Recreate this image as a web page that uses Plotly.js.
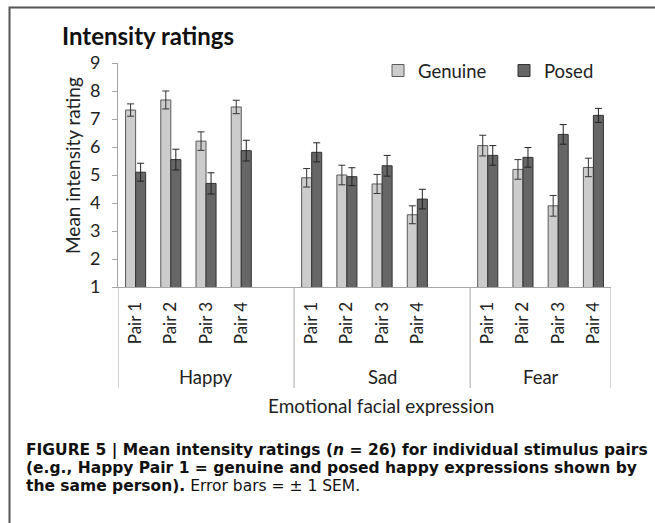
<!DOCTYPE html>
<html>
<head>
<meta charset="utf-8">
<script src="https://cdn.plot.ly/plotly-3.0.1.min.js"></script>
<style>
  html, body { margin: 0; padding: 0; background: #fff; }
  #chart { width: 655px; height: 523px; }
</style>
</head>
<body>
<div id="chart"></div>
<script>
// ---- data ----
const groups = ["Happy", "Sad", "Fear"];
const pairs = ["Pair 1", "Pair 2", "Pair 3", "Pair 4"];
const genuine    = [7.32, 7.68, 6.21, 7.43, 4.90, 5.00, 4.68, 3.58, 6.05, 5.20, 3.90, 5.27];
const genuineSem = [0.22, 0.32, 0.33, 0.24, 0.33, 0.35, 0.34, 0.32, 0.37, 0.35, 0.37, 0.33];
const posed      = [5.10, 5.55, 4.70, 5.87, 5.81, 4.94, 5.33, 4.14, 5.70, 5.63, 6.45, 7.13];
const posedSem   = [0.32, 0.37, 0.38, 0.37, 0.34, 0.32, 0.37, 0.35, 0.35, 0.35, 0.35, 0.25];
const seriesNames = ["Genuine", "Posed"];
const chartTitle = "Intensity ratings";
const yTitle = "Mean intensity rating";
const xTitle = "Emotional facial expression";
const yRange = [1, 9];
const captionLines = [
  "<b>FIGURE 5 | Mean intensity ratings (<i>n</i> = 26) for individual stimulus pairs</b>",
  "<b>(e.g., Happy Pair 1 = genuine and posed happy expressions shown by</b>",
  "<b>the same person).</b> Error bars = ± 1 SEM."
];

// ---- layout geometry ----
const W = 655, H = 523;
const M = { l: 118, r: 44, t: 63, b: 236 };
const PW = W - M.l - M.r, PH = H - M.t - M.b;
const px = x => (x - M.l) / PW;          // pixel x -> paper x
const py = y => (H - M.b - y) / PH;      // pixel y -> paper y

const FONT = "Lato, Carlito, Calibri, sans-serif";
const CAPFONT = "'DejaVu Sans', 'Liberation Sans', Arial, sans-serif";
const slot = pairs.length + 1;           // pairs plus one empty slot between groups
const xs = [], ticktext = [];
groups.forEach((g, gi) => pairs.forEach((p, pi) => { xs.push(gi * slot + pi); ticktext.push(p); }));
const xMax = groups.length * slot - 1.5;

const traces = [
  {
    type: "bar", name: seriesNames[0], x: xs, y: genuine,
    marker: { color: "#cccccc", line: { color: "#5a5a5a", width: 1 } },
    error_y: { type: "data", array: genuineSem, visible: true, color: "#333", thickness: 1, width: 3.5 }
  },
  {
    type: "bar", name: seriesNames[1], x: xs, y: posed,
    marker: { color: "#666666", line: { color: "#333333", width: 1 } },
    error_y: { type: "data", array: posedSem, visible: true, color: "#222", thickness: 1, width: 3.5 }
  }
];

const shapes = [];
// group separators of the two-level category axis
const seps = [-0.5];
groups.forEach((g, gi) => seps.push(gi === groups.length - 1 ? xMax : gi * slot + slot - 0.5));
seps.forEach(s => shapes.push({
  type: "line", xref: "x", yref: "paper", x0: s, x1: s, y0: 0, y1: py(388),
  line: { color: "#a6a6a6", width: 1 }
}));
// outer frame
shapes.push({
  type: "rect", xref: "paper", yref: "paper",
  x0: px(9.5), x1: px(W + 10), y0: py(7.5), y1: py(H + 10),
  line: { color: "#555", width: 2 }, fillcolor: "rgba(0,0,0,0)"
});

const annotations = [];
groups.forEach((g, gi) => {
  const lo = gi * slot - 0.5;
  const hi = gi === groups.length - 1 ? xMax : gi * slot + slot - 0.5;
  annotations.push({
    text: g, xref: "x", yref: "paper", x: (lo + hi) / 2, y: py(377),
    xanchor: "center", yanchor: "middle", showarrow: false,
    font: { family: FONT, size: 18.5, color: "#222" }
  });
});
annotations.push({
  text: xTitle, xref: "paper", yref: "paper", x: px(381), y: py(405),
  xanchor: "center", yanchor: "middle", showarrow: false,
  font: { family: FONT, size: 19, color: "#222" }
});
annotations.push({
  text: yTitle, xref: "paper", yref: "paper", x: px(72), y: py(166),
  xanchor: "center", yanchor: "middle", textangle: -90, showarrow: false,
  font: { family: FONT, size: 19, color: "#222" }
});
annotations.push({
  text: "<b>" + chartTitle + "</b>", xref: "paper", yref: "paper", x: px(60), y: py(35),
  xanchor: "left", yanchor: "middle", showarrow: false,
  font: { family: FONT, size: 24, color: "#111" }
});
const capY = [450.5, 468.2, 486];
captionLines.forEach((t, i) => annotations.push({
  text: t, xref: "paper", yref: "paper", x: px(24), y: py(capY[i]),
  xanchor: "left", yanchor: "middle", align: "left", showarrow: false,
  font: { family: CAPFONT, size: 15.5, color: "#111" }
}));

const layout = {
  width: W, height: H,
  margin: M,
  paper_bgcolor: "#fff", plot_bgcolor: "#fff",
  barmode: "group", bargap: 0.43, bargroupgap: 0,
  showlegend: true,
  legend: {
    orientation: "h", x: px(378), y: py(71), xanchor: "left", yanchor: "middle",
    font: { family: FONT, size: 18.5, color: "#222" }, entrywidth: 81, bgcolor: "rgba(0,0,0,0)"
  },
  xaxis: {
    type: "linear", range: [-0.5, xMax], tickvals: xs, ticktext: ticktext,
    tickangle: -90, ticks: "", showgrid: false, zeroline: false,
    showline: true, linecolor: "#a6a6a6", linewidth: 1,
    tickfont: { family: FONT, size: 17, color: "#222" }, ticklabelstandoff: 7
  },
  yaxis: {
    range: yRange, dtick: 1, tick0: 1, ticks: "outside", ticklen: 5, tickcolor: "#a6a6a6",
    showgrid: false, zeroline: false, showline: true, linecolor: "#a6a6a6", linewidth: 1,
    tickfont: { family: FONT, size: 18, color: "#222" }, ticklabelstandoff: 8
  },
  shapes: shapes,
  annotations: annotations
};

Plotly.newPlot("chart", traces, layout, { displayModeBar: false, staticPlot: true });
</script>
</body>
</html>
